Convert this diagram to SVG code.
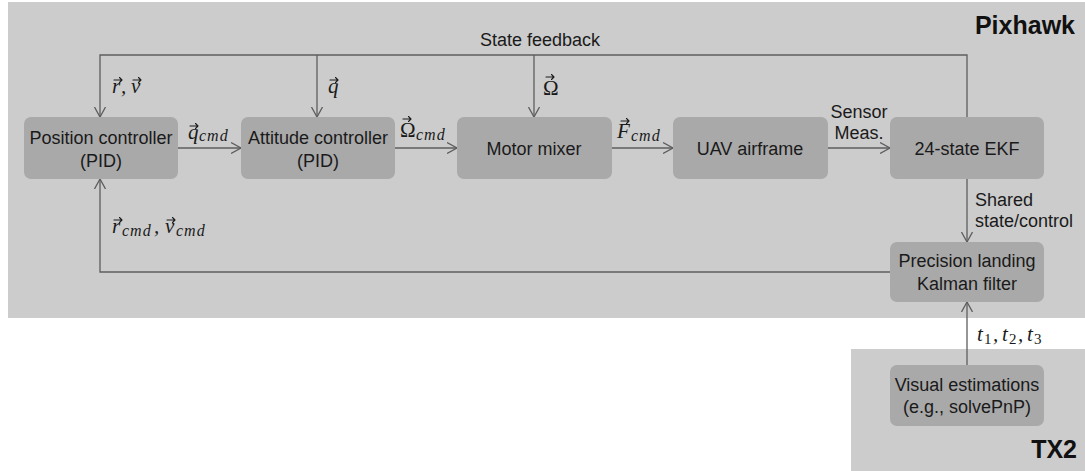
<svg xmlns="http://www.w3.org/2000/svg" width="1085" height="471" viewBox="0 0 1085 471">
  <style>
    .region { fill: #cccccc; }
    .box { fill: #a9a9a9; }
    .lbl { font-family: "Liberation Sans", Arial, sans-serif; font-size: 18px; fill: #1a1a1a; }
    .mid { text-anchor: middle; }
    .title { font-family: "Liberation Sans", Arial, sans-serif; font-size: 25px; font-weight: bold; fill: #111; }
    .math { font-family: "Liberation Serif", "DejaVu Serif", serif; font-size: 21px; font-style: italic; fill: #1a1a1a; }
    .up { font-style: normal; }
    .sub { font-family: "Liberation Serif", "DejaVu Serif", serif; font-size: 16px; font-style: italic; letter-spacing: 1px; fill: #1a1a1a; }
    .num { font-family: "Liberation Serif", "DejaVu Serif", serif; font-size: 15px; fill: #1a1a1a; }
    .wire { fill: none; stroke: #5e5e5e; stroke-width: 1.3; }
    .acc { fill: none; stroke: #1a1a1a; stroke-width: 1.1; stroke-linecap: round; stroke-linejoin: round; }
  </style>
  <defs>
    <marker id="head" viewBox="0 0 10 12" refX="10" refY="6" markerWidth="10" markerHeight="12" markerUnits="userSpaceOnUse" orient="auto">
      <path d="M0,0.5 L10,6 L0,11.5" fill="none" stroke="#5e5e5e" stroke-width="1.3"/>
    </marker>
    <!-- vector accent drawn above a symbol -->
    <path id="vec" class="acc" d="M0,0 H8 M5.5,-2.5 L8,0 L5.5,2.5"/>
  </defs>

  <!-- hardware regions -->
  <rect class="region" x="8" y="2" width="1077" height="316"/>
  <rect class="region" x="851" y="349" width="234" height="122"/>
  <text class="title" x="1075" y="34" text-anchor="end">Pixhawk</text>
  <text class="title" x="1077" y="458" text-anchor="end">TX2</text>

  <!-- connectors -->
  <g id="connectors">
    <path class="wire" d="M967,117 V55 H100 V117" marker-end="url(#head)"/>
    <path class="wire" d="M317,55 V117" marker-end="url(#head)"/>
    <path class="wire" d="M534,55 V117" marker-end="url(#head)"/>
    <path class="wire" d="M178,148 H241" marker-end="url(#head)"/>
    <path class="wire" d="M395,148 H457" marker-end="url(#head)"/>
    <path class="wire" d="M612,148 H673" marker-end="url(#head)"/>
    <path class="wire" d="M828,148 H890" marker-end="url(#head)"/>
    <path class="wire" d="M967,179 V242" marker-end="url(#head)"/>
    <path class="wire" d="M890,272 H100 V179" marker-end="url(#head)"/>
    <path class="wire" d="M967,365 V302" marker-end="url(#head)"/>

    <text class="lbl mid" x="540" y="46">State feedback</text>

    <!-- r, v feedback -->
    <text class="math" x="112" y="93">r</text>
    <use href="#vec" x="114" y="80"/>
    <text class="math" x="121" y="93">,</text>
    <text class="math" x="131" y="93">v</text>
    <use href="#vec" x="133" y="80"/>

    <!-- q feedback -->
    <text class="math" x="328" y="93">q</text>
    <use href="#vec" x="330" y="80"/>

    <!-- Omega feedback -->
    <text class="math up" x="543" y="95">Ω</text>
    <use href="#vec" x="546" y="77"/>

    <!-- q_cmd -->
    <text class="math" x="188" y="139">q</text>
    <use href="#vec" x="190" y="126"/>
    <text class="sub" x="199" y="141">cmd</text>

    <!-- Omega_cmd -->
    <text class="math up" x="400" y="137">Ω</text>
    <use href="#vec" x="403" y="119"/>
    <text class="sub" x="416" y="140">cmd</text>

    <!-- F_cmd -->
    <text class="math" x="617" y="138">F</text>
    <use href="#vec" x="621" y="121"/>
    <text class="sub" x="631" y="141">cmd</text>

    <text class="lbl mid" x="859" y="118">Sensor</text>
    <text class="lbl mid" x="859" y="139">Meas.</text>
    <text class="lbl" x="975" y="206">Shared</text>
    <text class="lbl" x="975" y="227">state/control</text>

    <!-- r_cmd, v_cmd -->
    <text class="math" x="112" y="233">r</text>
    <use href="#vec" x="114" y="220"/>
    <text class="sub" x="122" y="236">cmd</text>
    <text class="math" x="154" y="233">,</text>
    <text class="math" x="165" y="233">v</text>
    <use href="#vec" x="167" y="220"/>
    <text class="sub" x="176" y="236">cmd</text>

    <!-- t1, t2, t3 -->
    <text class="math" x="977" y="341">t</text>
    <text class="num" x="984" y="344">1</text>
    <text class="math" x="993" y="341">,</text>
    <text class="math" x="1002" y="341">t</text>
    <text class="num" x="1009" y="344">2</text>
    <text class="math" x="1018" y="341">,</text>
    <text class="math" x="1027" y="341">t</text>
    <text class="num" x="1034" y="344">3</text>
  </g>

  <!-- blocks -->
  <g id="position-controller">
    <rect class="box" x="24" y="117" width="154" height="62" rx="7"/>
    <text class="lbl mid" x="101" y="144">Position controller</text>
    <text class="lbl mid" x="101" y="167">(PID)</text>
  </g>
  <g id="attitude-controller">
    <rect class="box" x="241" y="117" width="154" height="62" rx="7"/>
    <text class="lbl mid" x="318" y="144">Attitude controller</text>
    <text class="lbl mid" x="318" y="167">(PID)</text>
  </g>
  <g id="motor-mixer">
    <rect class="box" x="457" y="117" width="155" height="62" rx="7"/>
    <text class="lbl mid" x="534" y="155">Motor mixer</text>
  </g>
  <g id="uav-airframe">
    <rect class="box" x="673" y="117" width="155" height="62" rx="7"/>
    <text class="lbl mid" x="750" y="155">UAV airframe</text>
  </g>
  <g id="ekf">
    <rect class="box" x="890" y="117" width="154" height="62" rx="7"/>
    <text class="lbl mid" x="967" y="155">24-state EKF</text>
  </g>
  <g id="precision-landing">
    <rect class="box" x="890" y="242" width="154" height="60" rx="7"/>
    <text class="lbl mid" x="967" y="267">Precision landing</text>
    <text class="lbl mid" x="967" y="290">Kalman filter</text>
  </g>
  <g id="visual-estimations">
    <rect class="box" x="890" y="365" width="154" height="61" rx="7"/>
    <text class="lbl mid" x="967" y="391">Visual estimations</text>
    <text class="lbl mid" x="967" y="413">(e.g., solvePnP)</text>
  </g>
</svg>
